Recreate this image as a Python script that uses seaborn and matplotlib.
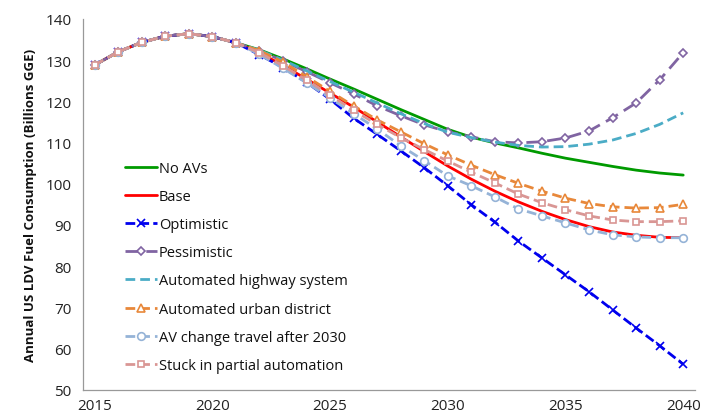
import numpy as np
import pandas as pd
import matplotlib
matplotlib.use("Agg")
import matplotlib.pyplot as plt
import seaborn as sns
from matplotlib.ticker import MultipleLocator, FixedLocator

# Dados (bilhões de GGE)
anos = list(range(2015, 2041))

inicio = [128.8, 132.0, 134.3, 135.8, 136.4, 135.7, 134.2]

no_avs = inicio + [132.5, 130.3, 127.9, 125.4, 123.0, 120.5, 118.0, 115.6, 113.2,
                   111.3, 109.9, 108.7, 107.4, 106.2, 105.2, 104.2, 103.3, 102.6, 102.1]
base = inicio + [131.8, 128.7, 125.4, 122.0, 118.6, 115.0, 111.4, 107.8, 104.3,
                 101.1, 98.2, 95.6, 93.3, 91.3, 89.6, 88.3, 87.5, 87.0, 86.9]
optimistic = inicio + [131.3, 128.2, 124.6, 120.5, 115.9, 112.0, 108.0, 103.9, 99.5,
                       94.9, 90.7, 86.1, 82.0, 77.9, 73.8, 69.4, 65.0, 60.7, 56.2]
pessimistic = inicio + [132.3, 129.8, 127.2, 124.5, 121.8, 118.9, 116.5, 114.3, 112.6,
                        111.4, 110.2, 109.9, 110.2, 111.1, 112.8, 116.0, 119.6, 125.2, 131.8]
highway = inicio + [132.4, 130.0, 127.4, 124.8, 122.2, 119.6, 117.0, 114.6, 112.5,
                    111.2, 110.1, 109.3, 108.9, 109.0, 109.6, 110.6, 112.2, 114.4, 117.2]
urban = inicio + [132.3, 129.5, 126.0, 122.4, 118.9, 115.5, 112.6, 109.7, 107.0,
                  104.5, 102.2, 100.1, 98.2, 96.5, 95.2, 94.4, 94.1, 94.2, 95.0]
av_travel = inicio + [131.4, 128.0, 124.5, 120.8, 117.0, 113.3, 109.2, 105.6, 101.9,
                      99.5, 96.8, 93.9, 92.2, 90.5, 88.8, 87.6, 87.1, 86.9, 86.9]
stuck = inicio + [131.8, 128.6, 125.2, 121.5, 117.8, 114.4, 111.2, 108.3, 105.5,
                  102.8, 100.2, 97.5, 95.4, 93.7, 92.2, 91.2, 90.8, 90.8, 91.0]

nomes = ["No AVs", "Base", "Optimistic", "Pessimistic", "Automated highway system",
         "Automated urban district", "AV change travel after 2030",
         "Stuck in partial automation"]
valores = [no_avs, base, optimistic, pessimistic, highway, urban, av_travel, stuck]

# estilo de cada série: cor, marcador, tracejado
estilos = {
    "No AVs": dict(color="#009a00", marker=None, dashes=None, ms=0),
    "Base": dict(color="#ff0000", marker=None, dashes=None, ms=0),
    "Optimistic": dict(color="#0000ee", marker="x", dashes=(3.5, 1.5), ms=5.5),
    "Pessimistic": dict(color="#8064a2", marker="D", dashes=(5, 2.5), ms=4.2),
    "Automated highway system": dict(color="#4bacc6", marker=None, dashes=(3.5, 1.8), ms=0),
    "Automated urban district": dict(color="#e8883a", marker="^", dashes=(3.5, 1.8), ms=5.5),
    "AV change travel after 2030": dict(color="#95b3d7", marker="o", dashes=(3.5, 1.8), ms=5.5),
    "Stuck in partial automation": dict(color="#d99694", marker="s", dashes=(3.5, 1.8), ms=5),
}

sns.set_style("white")
plt.rcParams["font.family"] = ["Open Sans", "DejaVu Sans"]

fig = plt.figure(figsize=(7.02, 4.14), dpi=100)
ax = fig.add_axes([0.118, 0.056, 0.872, 0.896])

for nome, vals in zip(nomes, valores):
    df = pd.DataFrame({"ano": anos, "valor": vals})
    e = estilos[nome]
    kw = dict(color=e["color"], linewidth=2.0, label=nome)
    if e["marker"] is not None:
        kw.update(marker=e["marker"], markersize=e["ms"],
                  markerfacecolor="white", markeredgecolor=e["color"],
                  markeredgewidth=1.2)
    sns.lineplot(data=df, x="ano", y="valor", ax=ax, **kw)
    if e["dashes"] is not None:
        ax.lines[-1].set_dashes(e["dashes"])

ax.set_xlim(2014.5, 2040.5)
ax.set_ylim(50, 140)
ax.yaxis.set_major_locator(MultipleLocator(10))
ax.xaxis.set_major_locator(FixedLocator([2015, 2020, 2025, 2030, 2035, 2040]))
ax.xaxis.set_minor_locator(FixedLocator(np.arange(2014.5, 2041, 1.0)))
ax.tick_params(axis="x", which="major", length=0, labelsize=11, pad=6, colors="#222222")
ax.tick_params(axis="x", which="minor", length=5, width=0.8, color="#999999", direction="out")
ax.tick_params(axis="y", which="major", length=5, width=0.8, color="#999999",
               direction="out", labelsize=11, labelcolor="#222222", pad=3)
ax.set_xticklabels(["2015", "2020", "2025", "2030", "2035", "2040"])

for s in ["top", "right"]:
    ax.spines[s].set_visible(False)
for s in ["left", "bottom"]:
    ax.spines[s].set_color("#999999")
    ax.spines[s].set_linewidth(0.9)

ax.set_xlabel("")
ax.set_ylabel("Annual US LDV Fuel Consumption (Billions GGE)", fontsize=9.5,
              fontweight="bold", color="#111111", labelpad=6)

leg = ax.legend(loc="lower left", bbox_to_anchor=(0.06, 0.03), frameon=False,
                fontsize=10.5, handlelength=2.2, handletextpad=0.1,
                labelspacing=0.9, borderaxespad=0)
for t in leg.get_texts():
    t.set_color("#111111")

fig.savefig("out.png", dpi=100)
